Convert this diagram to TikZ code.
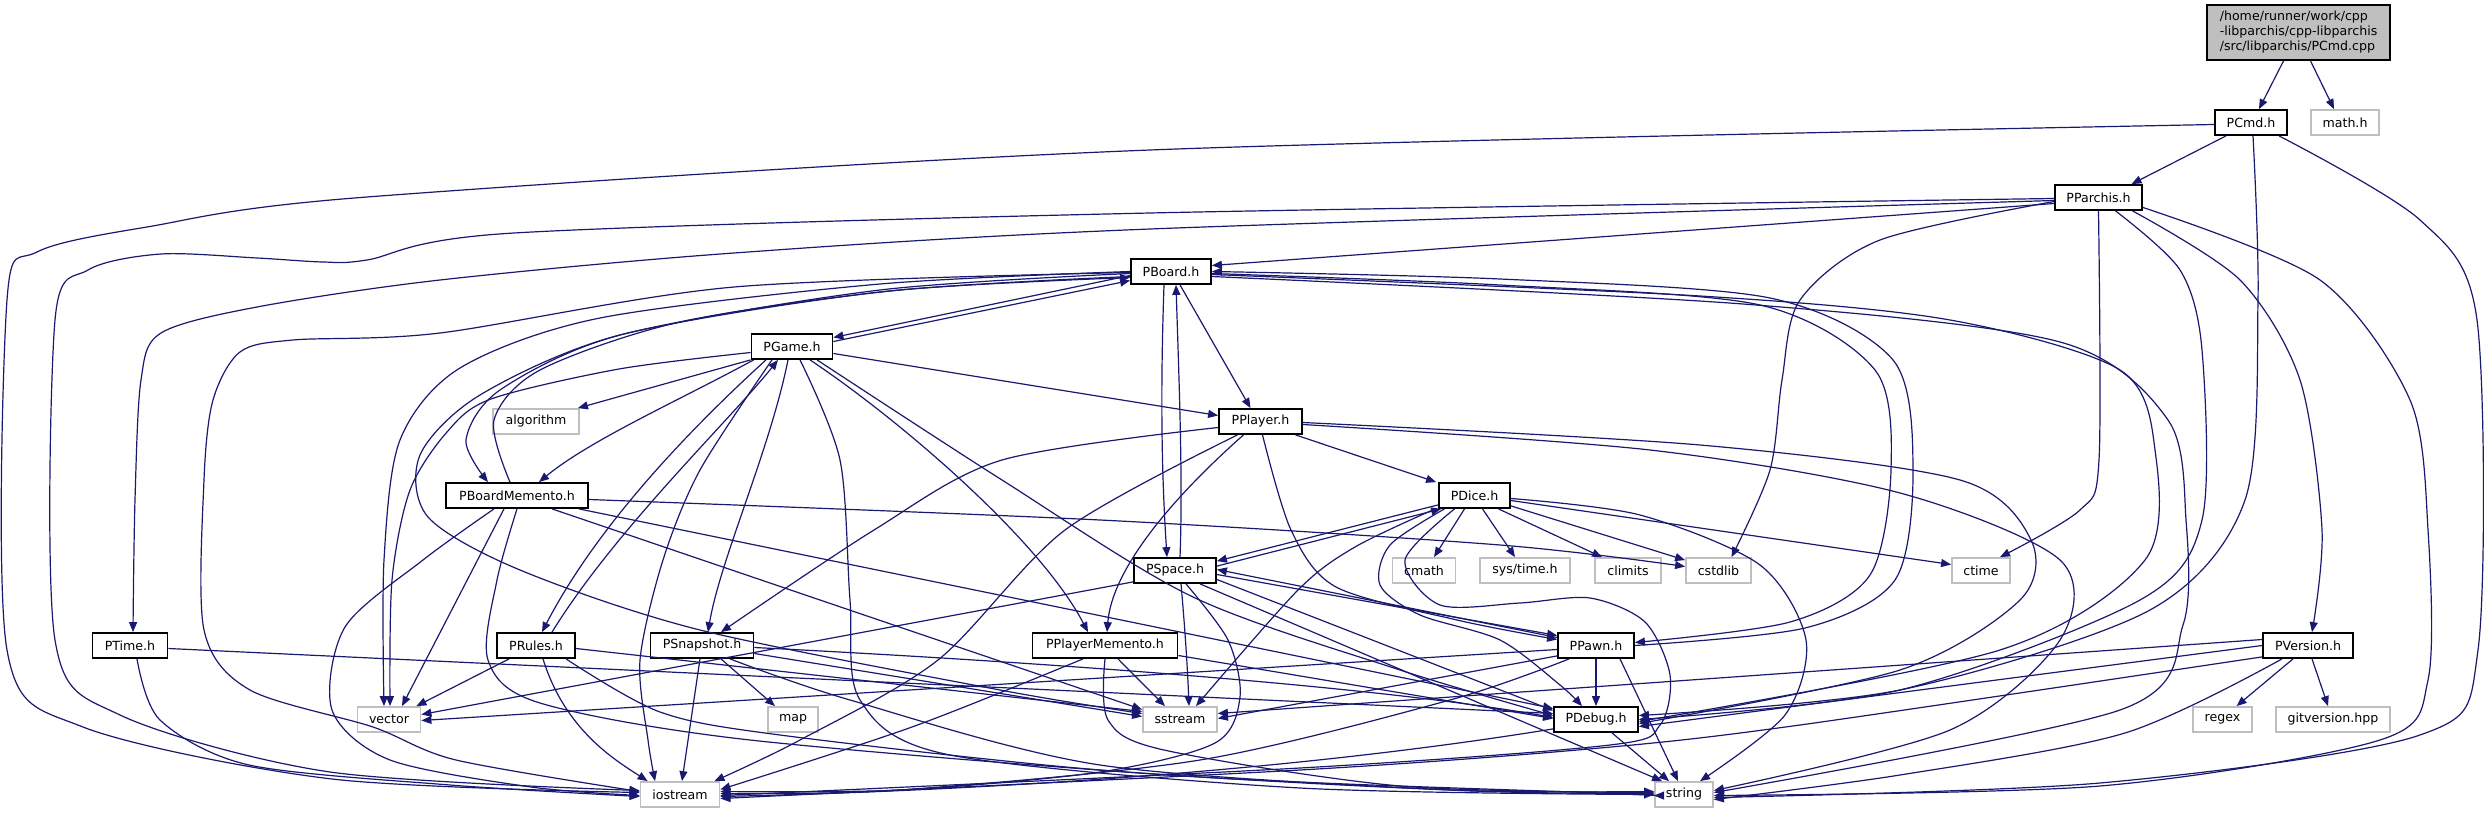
\documentclass[tikz,border=0pt]{standalone}
\usepackage{fontspec}
\setmainfont{DejaVu Sans}
\usetikzlibrary{arrows.meta,calc}
\definecolor{edgec}{HTML}{191970}
\definecolor{lgray}{HTML}{BFBFBF}
\begin{document}
\begin{tikzpicture}[x=0.5pt,y=-0.5pt,
  hdr/.style={draw=black, line width=0.9pt, fill=white, minimum height=12.5pt, inner sep=0pt, font=\fontsize{6.3}{7.5}\selectfont},
  lib/.style={hdr, draw=lgray},
  edg/.style={draw=edgec, line width=0.6pt, -{Triangle[length=5pt,width=4pt]}},
  sm/.style={smooth, tension=0.5}]
\useasboundingbox (0,0) rectangle (2484,813);
% nodes
\node[hdr, fill=lgray, minimum width=91.5pt, minimum height=27.5pt, align=left] (root) at (2298.5,32.5) {/home/runner/work/cpp\\-libparchis/cpp-libparchis\\/src/libparchis/PCmd.cpp};
\node[hdr, minimum width=36pt] (PCmd) at (2251,122.5) {PCmd.h};
\node[lib, minimum width=34pt] (math) at (2345,122.5) {math.h};
\node[hdr, minimum width=43.5pt] (PParchis) at (2098.5,197.5) {PParchis.h};
\node[hdr, minimum width=40pt] (PBoard) at (1171,271.5) {PBoard.h};
\node[hdr, minimum width=40.5pt] (PGame) at (792,346.5) {PGame.h};
\node[lib, minimum width=43pt] (algorithm) at (536,421.5) {algorithm};
\node[hdr, minimum width=41.5pt] (PPlayer) at (1260.5,421.5) {PPlayer.h};
\node[hdr, minimum width=71pt] (PBoardMemento) at (517,495.5) {PBoardMemento.h};
\node[hdr, minimum width=35.5pt] (PDice) at (1474.5,495.5) {PDice.h};
\node[hdr, minimum width=41pt] (PSpace) at (1175,570.5) {PSpace.h};
\node[lib, minimum width=31.5pt] (cmath) at (1424,570.5) {cmath};
\node[lib, minimum width=45pt] (systime) at (1525,570.5) {sys/time.h};
\node[lib, minimum width=33pt] (climits) at (1628,570.5) {climits};
\node[lib, minimum width=32.5pt] (cstdlib) at (1718.5,570.5) {cstdlib};
\node[lib, minimum width=29pt] (ctime) at (1981,570.5) {ctime};
\node[hdr, minimum width=37.5pt] (PTime) at (130,645.5) {PTime.h};
\node[hdr, minimum width=39pt] (PRules) at (536,645.5) {PRules.h};
\node[hdr, minimum width=51.5pt] (PSnapshot) at (702,645.5) {PSnapshot.h};
\node[hdr, minimum width=72.5pt] (PPlayerMemento) at (1105,645.5) {PPlayerMemento.h};
\node[hdr, minimum width=38pt] (PPawn) at (1596,645.5) {PPawn.h};
\node[hdr, minimum width=45pt] (PVersion) at (2308,645.5) {PVersion.h};
\node[lib, minimum width=31.5pt] (vector) at (389,719.5) {vector};
\node[lib, minimum width=25pt] (map) at (793,719.5) {map};
\node[lib, minimum width=37pt] (sstream) at (1180,719.5) {sstream};
\node[hdr, minimum width=42pt] (PDebug) at (1596,719.5) {PDebug.h};
\node[lib, minimum width=29.5pt] (regex) at (2222.5,719.5) {regex};
\node[lib, minimum width=57pt] (gitversion) at (2333,719.5) {gitversion.hpp};
\node[lib, minimum width=39.5pt] (iostream) at (680,794.5) {iostream};
\node[lib, minimum width=29pt] (string) at (1684,794.5) {string};
% root / PCmd
\draw[edg] ($(root.south)+(-15,0)$) -- ($(PCmd.north)+(8,0)$);
\draw[edg] ($(root.south)+(12,0)$) -- ($(math.north)+(-11,0)$);
\draw[edg] ($(PCmd.south)+(-25,0)$) -- ($(PParchis.north)+(33,0)$);
\draw[edg] plot[sm] coordinates {($(PCmd.west)+(0,2)$) (1150,150) (367,197) (147,227) (37,252) (7,300) (7,650) (83,727) (332,779) ($(iostream.west)+(0,-2)$)};
\draw[edg] plot[sm] coordinates {($(PCmd.south)+(2,0)$) (2258,300) (2245,500) (2150,610) (1900,690) ($(PDebug.east)+(0,-4)$)};
\draw[edg] plot[sm] coordinates {($(PCmd.south)+(28,0)$) (2420,220) (2477,320) (2478,650) (2420,735) (2100,783) ($(string.east)+(0,3)$)};
% PParchis
\draw[edg] ($(PParchis.west)+(0,6)$) -- ($(PBoard.east)+(0,-6)$);
\draw[edg] plot[sm] coordinates {($(PParchis.west)+(0,1)$) (1150,213) (514,233) (367,260) (323,262) (257,258) (161,254) (88,270) (55,320) (55,640) (120,715) (330,772) ($(iostream.west)+(0,-4)$)};
\draw[edg] plot[sm] coordinates {($(PParchis.west)+(0,3)$) (1150,229) (734,253) (440,280) (257,307) (161,333) (141,380) (135,500) ($(PTime.north)+(3,0)$)};
\draw[edg] plot[sm] coordinates {($(PParchis.west)+(0,4)$) (1880,240) (1800,300) (1782,380) (1770,470) ($(cstdlib.north)+(13,0)$)};
\draw[edg] plot[sm] coordinates {(PParchis.south) (2099,460) (2080,510) ($(ctime.north)+(19,0)$)};
\draw[edg] plot[sm] coordinates {($(PParchis.south)+(17,0)$) (2180,270) (2202,350) (2202,520) (2140,600) (1900,690) (PDebug.east)};
\draw[edg] plot[sm] coordinates {($(PParchis.south)+(34,0)$) (2240,280) (2300,380) (2322,530) ($(PVersion.north)+(4,0)$)};
\draw[edg] plot[sm] coordinates {($(PParchis.east)+(0,10)$) (2320,280) (2410,400) (2428,530) (2428,680) (2380,740) (2100,786) ($(string.east)+(0,1)$)};
% PBoard
\draw[edg] ($(PBoard.west)+(0,4)$) -- ($(PGame.east)+(0,-9)$);
\draw[edg] ($(PGame.east)+(0,-5)$) -- ($(PBoard.west)+(0,9)$);
\draw[edg] ($(PBoard.south)+(9,0)$) -- ($(PPlayer.north)+(-10,0)$);
\draw[edg] ($(PBoard.south)+(-7,0)$) .. controls (1160,400) and (1162,480) .. ($(PSpace.north)+(-8,0)$);
\draw[edg] ($(PSpace.north)+(5,0)$) .. controls (1183,480) and (1179,380) .. ($(PBoard.south)+(5,0)$);
\draw[edg] plot[sm] coordinates {($(PBoard.east)+(0,2)$) (1500,285) (1760,305) (1875,370) (1891,470) (1870,575) (1790,622) ($(PPawn.east)+(0,-3)$)};
\draw[edg] plot[sm] coordinates {(PPawn.east) (1805,628) (1895,580) (1913,470) (1893,360) (1770,298) (1500,279) (PBoard.east)};
\draw[edg] plot[sm] coordinates {($(PBoard.west)+(0,2)$) (880,290) (620,335) (500,390) (466,440) ($(PBoardMemento.north)+(-29,0)$)};
\draw[edg] plot[sm] coordinates {($(PBoardMemento.north)+(-7,0)$) (494,420) (540,370) (680,322) (900,290) ($(PBoard.west)+(0,6)$)};
\draw[edg] plot[sm] coordinates {(PBoard.west) (880,284) (600,318) (460,368) (400,440) (384,560) ($(vector.north)+(-5,0)$)};
\draw[edg] plot[sm] coordinates {($(PBoard.west)+(0,1)$) (734,287) (440,333) (293,340) (240,352) (213,400) (204,480) (204,630) (250,690) (373,727) (456,760) ($(iostream.west)+(0,-3)$)};
\draw[edg] plot[sm] coordinates {($(PBoard.west)+(0,5)$) (880,292) (620,335) (480,395) (420,455) (428,517) (520,570) (700,630) (1000,690) ($(sstream.west)+(0,-6)$)};
\draw[edg] plot[sm] coordinates {($(PBoard.east)+(0,3)$) (1700,296) (1950,320) (2120,370) (2155,450) (2145,560) (2000,650) ($(PDebug.east)+(0,2)$)};
\draw[edg] plot[sm] coordinates {($(PBoard.east)+(0,5)$) (1743,304) (2060,342) (2168,420) (2186,520) (2183,625) (2120,710) ($(string.east)+(0,-2)$)};
% PGame
\draw[edg] ($(PGame.east)+(0,7)$) -- ($(PPlayer.west)+(0,-6)$);
\draw[edg] (PGame.south west) -- ($(algorithm.north east)+(-2,0)$);
\draw[edg] ($(PGame.south west)+(3,0)$) .. controls (680,400) and (590,440) .. ($(PBoardMemento.north)+(22,0)$);
\draw[edg] plot[sm] coordinates {($(PGame.west)+(0,6)$) (619,369) (491,399) (447,432) (410,490) (392,580) ($(vector.north)+(1,0)$)};
\draw[edg] ($(PGame.south)+(-26,0)$) .. controls (700,420) and (600,520) .. ($(PRules.north)+(6,0)$);
\draw[edg] ($(PRules.north)+(16,0)$) .. controls (615,530) and (730,420) .. ($(PGame.south)+(-14,0)$);
\draw[edg] ($(PGame.south)+(-4,0)$) .. controls (770,450) and (720,560) .. ($(PSnapshot.north)+(6,0)$);
\draw[edg] plot[sm] coordinates {($(PGame.south)+(-20,0)$) (700,470) (663,560) (640,660) (648,740) ($(iostream.north)+(-25,0)$)};
\draw[edg] ($(PGame.south)+(18,0)$) .. controls (900,420) and (1040,540) .. ($(PPlayerMemento.north)+(-17,0)$);
\draw[edg] plot[sm] coordinates {($(PGame.south)+(25,0)$) (1002,480) (1193,597) (1400,670) ($(PDebug.west)+(0,-4)$)};
\draw[edg] plot[sm] coordinates {($(PGame.south)+(8,0)$) (840,460) (850,600) (860,700) (950,755) (1300,788) (string.west)};
% PPlayer
\draw[edg] plot[sm] coordinates {($(PPlayer.west)+(0,6)$) (1002,460) (874,530) ($(PSnapshot.north)+(19,0)$)};
\draw[edg] ($(PPlayer.south)+(35,0)$) -- ($(PDice.north west)+(-2,0)$);
\draw[edg] ($(PPlayer.south)+(-17,0)$) .. controls (1170,500) and (1112,570) .. ($(PPlayerMemento.north)+(2,0)$);
\draw[edg] plot[sm] coordinates {($(PPlayer.south)+(-23,0)$) (1065,530) (938,660) (800,740) ($(iostream.north east)+(-6,0)$)};
\draw[edg] plot[sm] coordinates {($(PPlayer.south)+(2,0)$) (1291,530) (1336,587) (1457,620) ($(PPawn.west)+(0,-6)$)};
\draw[edg] plot[sm] coordinates {($(PPlayer.east)+(0,1)$) (1700,445) (1960,480) (2031,540) (2020,600) (1900,670) ($(PDebug.east)+(0,4)$)};
\draw[edg] plot[sm] coordinates {($(PPlayer.east)+(0,3)$) (1650,450) (1900,493) (2060,560) (2060,640) (1950,730) ($(string.east)+(0,-4)$)};
% PDice
\draw[edg] ($(PDice.south west)+(0,-4)$) -- ($(PSpace.north east)+(0,4)$);
\draw[edg] ($(PSpace.north east)+(0,9)$) -- ($(PDice.south west)+(3,0)$);
\draw[edg] ($(PDice.south)+(-10,0)$) -- ($(cmath.north)+(10,0)$);
\draw[edg] ($(PDice.south)+(8,0)$) -- ($(systime.north)+(-10,0)$);
\draw[edg] ($(PDice.south)+(24,0)$) -- ($(climits.north)+(-26,0)$);
\draw[edg] ($(PDice.south east)+(0,-3)$) -- ($(cstdlib.north west)+(0,3)$);
\draw[edg] ($(PDice.east)+(0,5)$) -- ($(ctime.west)+(0,-6)$);
\draw[edg] plot[sm] coordinates {($(PDice.south west)+(-3,0)$) (1355,547) (1298,590) ($(sstream.north)+(16,0)$)};
\draw[edg] plot[sm] coordinates {($(PDice.south)+(-30,0)$) (1390,545) (1380,585) (1420,615) (1500,640) (1560,685) ($(PDebug.north)+(-14,0)$)};
\draw[edg] plot[sm] coordinates {($(PDice.east)+(0,3)$) (1640,515) (1760,565) (1806,640) (1785,715) ($(string.north)+(16,0)$)};
\draw[edg] plot[sm] coordinates {($(PDice.south)+(-20,0)$) (1405,560) (1440,605) (1520,603) (1590,598) (1645,622) (1670,675) (1660,725) (1610,745) (1300,768) ($(iostream.east)+(0,1)$)};
% PSpace
\draw[edg] ($(PSpace.east)+(0,4)$) -- ($(PPawn.west)+(0,-10)$);
\draw[edg] ($(PPawn.west)+(0,-8)$) -- ($(PSpace.east)+(0,-1)$);
\draw[edg] ($(PSpace.south west)+(0,-2)$) -- ($(vector.east)+(0,-5)$);
\draw[edg] ($(PSpace.south)+(6,0)$) .. controls (1186,640) and (1188,680) .. ($(sstream.north)+(9,0)$);
\draw[edg] plot[sm] coordinates {($(PSpace.south)+(11,0)$) (1228,640) (1240,697) (1215,743) (1100,772) (900,790) ($(iostream.east)+(0,-3)$)};
\draw[edg] ($(PSpace.south)+(25,0)$) -- ($(string.north west)+(8,0)$);
\draw[edg] ($(PSpace.east)+(0,9)$) -- ($(PDebug.west)+(0,-9)$);
% PPawn
\draw[edg] ($(PPawn.west)+(0,4)$) -- ($(vector.east)+(0,1)$);
\draw[edg] ($(PPawn.south west)+(0,-3)$) -- ($(sstream.east)+(0,-1)$);
\draw[edg] (PPawn.south) -- (PDebug.north);
\draw[edg] ($(PPawn.south)+(24,0)$) -- ($(string.north)+(-6,0)$);
\draw[edg] plot[sm] coordinates {($(PPawn.south west)+(12,0)$) (1450,700) (1200,760) (900,790) ($(iostream.east)+(0,-1)$)};
% PDebug
\draw[edg] ($(PDebug.south)+(16,0)$) -- ($(string.north)+(-15,0)$);
\draw[edg] ($(PDebug.south west)+(0,-4)$) .. controls (1300,770) and (1000,790) .. ($(iostream.east)+(0,2)$);
% PVersion
\draw[edg] ($(PVersion.south)+(-15,0)$) -- ($(regex.north)+(14,0)$);
\draw[edg] ($(PVersion.south)+(4,0)$) -- ($(gitversion.north)+(-5,0)$);
\draw[edg] plot[sm] coordinates {($(PVersion.south)+(-26,0)$) (2125,733) (1900,775) ($(string.east)+(0,5)$)};
\draw[edg] ($(PVersion.west)+(0,-6)$) -- ($(sstream.east)+(0,-6)$);
\draw[edg] (PVersion.west) -- ($(PDebug.east)+(0,7)$);
\draw[edg] plot[sm] coordinates {($(PVersion.south west)+(0,-2)$) (1800,725) (1600,748) (1300,770) ($(iostream.east)+(0,4)$)};
% PTime
\draw[edg] plot[sm] coordinates {($(PTime.south)+(7,0)$) (160,720) (249,765) (450,785) ($(iostream.west)+(0,2)$)};
\draw[edg] ($(PTime.east)+(0,3)$) -- ($(PDebug.west)+(0,-6)$);
% PRules
\draw[edg] ($(PRules.south west)+(13,0)$) -- ($(vector.north east)+(-5,0)$);
\draw[edg] ($(PRules.south)+(7,0)$) .. controls (565,730) and (615,760) .. ($(iostream.north west)+(8,0)$);
\draw[edg] plot[sm] coordinates {($(PRules.south)+(30,0)$) (660,712) (780,735) (1100,770) (1450,790) ($(string.west)+(0,-3)$)};
\draw[edg] ($(PRules.east)+(0,3)$) -- ($(sstream.west)+(0,-8)$);
% PSnapshot
\draw[edg] ($(PSnapshot.south)+(19,0)$) -- ($(map.north)+(-18,0)$);
\draw[edg] ($(PSnapshot.south)+(-2,0)$) -- ($(iostream.north)+(2,0)$);
\draw[edg] ($(PSnapshot.east)+(0,8)$) -- ($(sstream.west)+(0,-3)$);
\draw[edg] ($(PSnapshot.east)+(0,2)$) .. controls (1100,665) and (1400,690) .. ($(PDebug.west)+(0,-2)$);
\draw[edg] plot[sm] coordinates {($(PSnapshot.south)+(28,0)$) (850,700) (1100,765) (1450,790) ($(string.west)+(0,-1)$)};
% PPlayerMemento
\draw[edg] ($(PPlayerMemento.south)+(13,0)$) -- ($(sstream.north)+(-15,0)$);
\draw[edg] plot[sm] coordinates {($(PPlayerMemento.south)+(-22,0)$) (912,727) ($(iostream.east)+(0,-5)$)};
\draw[edg] plot[sm] coordinates {(PPlayerMemento.south) (1108,720) (1164,750) (1400,786) ($(string.west)+(0,-2)$)};
\draw[edg] ($(PPlayerMemento.east)+(0,10)$) -- ($(PDebug.west)+(0,-1)$);
% PBoardMemento
\draw[edg] plot[sm] coordinates {($(PBoardMemento.east)+(0,4)$) (1100,520) (1500,545) ($(cstdlib.west)+(0,-4)$)};
\draw[edg] plot[sm] coordinates {($(PBoardMemento.south)+(-23,0)$) (423,560) (345,627) (332,710) (390,760) (531,787) ($(iostream.west)+(0,1)$)};
\draw[edg] ($(PBoardMemento.south)+(-13,0)$) -- ($(vector.north)+(13,0)$);
\draw[edg] plot[sm] coordinates {(PBoardMemento.south) (497,580) (488,660) (540,703) (750,740) (1200,777) (1600,793) ($(string.west)+(0,1)$)};
\draw[edg] ($(PBoardMemento.south)+(35,0)$) -- ($(sstream.west)+(0,-10)$);
\draw[edg] ($(PBoardMemento.south east)+(-10,0)$) -- ($(PDebug.west)+(0,-11)$);
\end{tikzpicture}
\end{document}
